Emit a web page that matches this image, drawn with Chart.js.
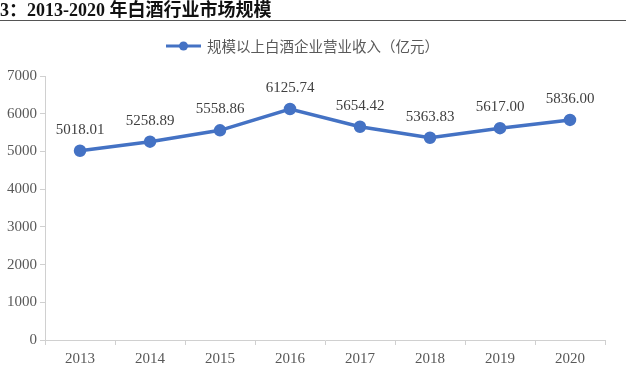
<!DOCTYPE html>
<html>
<head>
<meta charset="utf-8">
<script src="https://cdn.jsdelivr.net/npm/chart.js@4"></script>
<style>
  html, body { margin: 0; padding: 0; background: #fff; }
  #wrap { position: relative; width: 635px; height: 378px; }
  #title {
    position: absolute; left: 0; top: 0; width: 626px; height: 20px;
    border-bottom: 1.5px solid #555;
    font: bold 18px "Liberation Serif", "Noto Sans CJK SC", serif;
    color: #111; line-height: 20px; white-space: nowrap;
  }
  canvas { position: absolute; left: 0; top: 0; }
</style>
</head>
<body>
<div id="wrap">
  <canvas id="lineChart" width="635" height="378"></canvas>
  <div id="title">3：2013-2020 年白酒行业市场规模</div>
</div>
<script>
// data
const years = ["2013", "2014", "2015", "2016", "2017", "2018", "2019", "2020"];
const revenue = [5018.01, 5258.89, 5558.86, 6125.74, 5654.42, 5363.83, 5617.0, 5836.0];
const yTicks = [0, 1000, 2000, 3000, 4000, 5000, 6000, 7000];
const seriesName = "规模以上白酒企业营业收入（亿元）";

const blue = "#4472C4";
const serif = "'Liberation Serif', 'Times New Roman', serif";

// value labels above each point
const valueLabels = {
    id: "valueLabels",
    afterDatasetsDraw(chart) {
        const ctx = chart.ctx;
        const meta = chart.getDatasetMeta(0);
        ctx.save();
        ctx.font = "15px " + serif;
        ctx.fillStyle = "#404040";
        ctx.textAlign = "center";
        ctx.textBaseline = "middle";
        meta.data.forEach((pt, i) => {
            ctx.fillText(revenue[i].toFixed(2), pt.x, pt.y - 21);
        });
        ctx.restore();
    },
};

// legend: line with a round marker, then the series name
const lineLegend = {
    id: "lineLegend",
    afterDraw(chart) {
        const ctx = chart.ctx;
        const y = 46;
        ctx.save();
        ctx.strokeStyle = blue;
        ctx.lineWidth = 3;
        ctx.beginPath();
        ctx.moveTo(166, y);
        ctx.lineTo(201, y);
        ctx.stroke();
        ctx.fillStyle = blue;
        ctx.beginPath();
        ctx.arc(183.5, y, 4.5, 0, Math.PI * 2);
        ctx.fill();
        ctx.font = "14.5px 'Noto Sans CJK SC', sans-serif";
        ctx.fillStyle = "#595959";
        ctx.textBaseline = "middle";
        ctx.fillText(seriesName, 207, y);
        ctx.restore();
    },
};

new Chart(document.getElementById("lineChart").getContext("2d"), {
    type: "line",
    data: {
        labels: years,
        datasets: [
            {
                label: seriesName,
                data: revenue,
                borderColor: blue,
                backgroundColor: blue,
                borderWidth: 3.5,
                pointRadius: 4.5,
                pointHoverRadius: 4.5,
                pointBackgroundColor: blue,
                pointBorderColor: blue,
                tension: 0,
            },
        ],
    },
    options: {
        responsive: false,
        animation: false,
        layout: { padding: { top: 76, right: 30, left: 0, bottom: 0 } },
        plugins: {
            legend: { display: false },
            tooltip: { enabled: false },
        },
        scales: {
            x: {
                offset: true,
                grid: {
                    display: true,
                    drawOnChartArea: false,
                    offset: true,
                    tickLength: 5,
                    color: "#d0d0d0",
                },
                border: { color: "#d0d0d0", width: 1 },
                ticks: {
                    font: { family: serif, size: 15 },
                    color: "#595959",
                    padding: 5,
                },
                afterFit(axis) { axis.height = 38; },
            },
            y: {
                min: 0,
                max: 7000,
                afterBuildTicks(axis) { axis.ticks = yTicks.map((v) => ({ value: v })); },
                grid: {
                    display: true,
                    drawOnChartArea: false,
                    tickLength: 5,
                    color: "#d0d0d0",
                },
                border: { color: "#d0d0d0", width: 1 },
                ticks: {
                    font: { family: serif, size: 15 },
                    color: "#595959",
                    padding: 3,
                    callback: (v) => String(v),
                },
                afterFit(axis) { axis.width = 45; },
            },
        },
    },
    plugins: [valueLabels, lineLegend],
});
</script>
</body>
</html>
